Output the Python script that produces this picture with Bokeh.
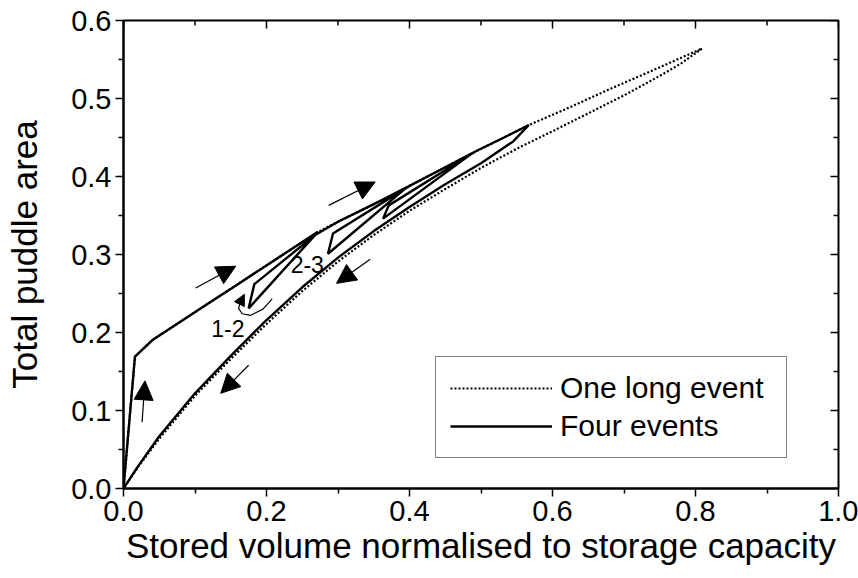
import math
from bokeh.plotting import figure
from bokeh.models import (LinearAxis, FixedTicker, Range1d, Arrow, NormalHead,
                          Legend, LegendItem, Label, NumeralTickFormatter)
from bokeh.embed import file_html
from bokeh.resources import INLINE

FONT = "Liberation Sans"

# ---- One long event (dotted): filling branch, then draining branch ----
long_fill_x = [0.0, 0.016, 0.040, 0.08, 0.12, 0.16, 0.20, 0.24, 0.27, 0.30, 0.331,
               0.36, 0.396, 0.44, 0.488, 0.53, 0.567, 0.62, 0.68, 0.74, 0.809]
long_fill_y = [0.0, 0.169, 0.190, 0.214, 0.238, 0.262, 0.286, 0.310, 0.328, 0.342, 0.356,
               0.369, 0.386, 0.407, 0.430, 0.449, 0.466, 0.487, 0.512, 0.536, 0.564]
long_drain_x = [0.809, 0.78, 0.75, 0.70, 0.65, 0.60, 0.555, 0.50, 0.45,
                0.40, 0.35, 0.30, 0.25, 0.20, 0.15, 0.10, 0.05, 0.02, 0.0]
long_drain_y = [0.564, 0.545, 0.529, 0.504, 0.481, 0.458, 0.438, 0.411, 0.384,
                0.356, 0.325, 0.291, 0.253, 0.211, 0.166, 0.119, 0.064, 0.027, 0.0]

# ---- Four events (solid): fill, partial drains / refills, final drain ----
four_x = [0.0, 0.016, 0.040, 0.08, 0.12, 0.16, 0.20, 0.24, 0.272,
          0.175, 0.183, 0.268, 0.30, 0.331, 0.36, 0.396,
          0.286, 0.293, 0.40, 0.44, 0.488,
          0.363, 0.371, 0.492, 0.53, 0.567,
          0.545, 0.50, 0.45, 0.40, 0.35, 0.30, 0.25, 0.20, 0.15, 0.10, 0.05, 0.02, 0.0]
four_y = [0.0, 0.169, 0.190, 0.214, 0.238, 0.262, 0.286, 0.310, 0.329,
          0.231, 0.262, 0.325, 0.342, 0.356, 0.369, 0.386,
          0.301, 0.327, 0.388, 0.407, 0.430,
          0.346, 0.363, 0.432, 0.449, 0.466,
          0.445, 0.417, 0.390, 0.361, 0.330, 0.296, 0.258, 0.216, 0.170, 0.122, 0.067, 0.028, 0.0]

# ---- direction arrows (start -> end, data units) ----
arrow_x0 = [0.026, 0.101, 0.287, 0.175, 0.345]
arrow_y0 = [0.085, 0.257, 0.363, 0.158, 0.294]
arrow_x1 = [0.030, 0.157, 0.352, 0.136, 0.298]
arrow_y1 = [0.138, 0.285, 0.393, 0.122, 0.263]

# curved arrow near the 1-2 loop
curl_x = [0.208, 0.195, 0.178, 0.166, 0.161, 0.163]
curl_y = [0.243, 0.230, 0.222, 0.224, 0.231, 0.238]
curl_tip = (0.169, 0.249)

loop_labels = ["1-2", "2-3"]
loop_label_x = [0.146, 0.257]
loop_label_y = [0.205, 0.287]

x_major = [0.0, 0.2, 0.4, 0.6, 0.8, 1.0]
x_minor = [0.1, 0.3, 0.5, 0.7, 0.9]
y_major = [0.0, 0.1, 0.2, 0.3, 0.4, 0.5, 0.6]
y_minor = [0.05, 0.15, 0.25, 0.35, 0.45, 0.55]
X_MAX, Y_MAX = 1.0, 0.6

p = figure(width=858, height=578, output_backend="svg", toolbar_location=None,
           x_range=Range1d(0, X_MAX), y_range=Range1d(0, Y_MAX),
           min_border_left=123, min_border_right=20, min_border_top=20,
           min_border_bottom=90, x_axis_location=None, y_axis_location=None)
p.grid.visible = False
p.outline_line_color = "black"
p.outline_line_width = 2
p.background_fill_color = "white"
p.border_fill_color = "white"

xt = FixedTicker(ticks=x_major, minor_ticks=x_minor)
yt = FixedTicker(ticks=y_major, minor_ticks=y_minor)


def style(ax):
    ax.axis_line_width = 2
    ax.axis_line_color = "black"
    ax.major_tick_line_width = 1.5
    ax.minor_tick_line_width = 1.5
    ax.major_tick_line_color = "black"
    ax.minor_tick_line_color = "black"
    ax.major_tick_out, ax.major_tick_in = 8, 0
    ax.minor_tick_out, ax.minor_tick_in = 5, 0
    ax.major_label_text_font = FONT
    ax.major_label_text_font_size = "29px"
    ax.major_label_text_color = "black"
    ax.axis_label_text_font = FONT
    ax.axis_label_text_font_size = "35px"
    ax.axis_label_text_font_style = "normal"
    ax.axis_label_text_color = "black"
    ax.formatter = NumeralTickFormatter(format="0.0")


xb = LinearAxis(ticker=xt, axis_label="Stored volume normalised to storage capacity")
style(xb)
xb.major_label_standoff = 4
xb.axis_label_standoff = 2
p.add_layout(xb, "below")

yl = LinearAxis(ticker=yt, axis_label="Total puddle area")
style(yl)
yl.major_label_standoff = 4
yl.axis_label_standoff = 24
p.add_layout(yl, "left")

# inward ticks on the top and right frame edges
p.ray(x=x_major, y=[Y_MAX] * len(x_major), length=8, length_units="screen",
      angle=-90, angle_units="deg", line_color="black", line_width=1.5)
p.ray(x=x_minor, y=[Y_MAX] * len(x_minor), length=5, length_units="screen",
      angle=-90, angle_units="deg", line_color="black", line_width=1.5)
p.ray(x=[X_MAX] * len(y_major), y=y_major, length=8, length_units="screen",
      angle=180, angle_units="deg", line_color="black", line_width=1.5)
p.ray(x=[X_MAX] * len(y_minor), y=y_minor, length=5, length_units="screen",
      angle=180, angle_units="deg", line_color="black", line_width=1.5)

r_long_fill = p.line(long_fill_x, long_fill_y, line_color="black", line_width=2.2,
                     line_dash="2 2")
r_long_drain = p.line(long_drain_x, long_drain_y, line_color="black", line_width=2.2,
                      line_dash="2 2")
r_four = p.line(four_x, four_y, line_color="black", line_width=2.4)

for x0, y0, x1, y1 in zip(arrow_x0, arrow_y0, arrow_x1, arrow_y1):
    p.add_layout(Arrow(end=NormalHead(size=19, fill_color="black", line_color="black"),
                       x_start=x0, y_start=y0, x_end=x1, y_end=y1,
                       line_width=1.2, line_color="black"))

p.line(curl_x, curl_y, line_color="black", line_width=1.2)
p.add_layout(Arrow(end=NormalHead(size=11, fill_color="black", line_color="black"),
                   x_start=curl_x[-1], y_start=curl_y[-1], x_end=curl_tip[0], y_end=curl_tip[1],
                   line_width=1.2, line_color="black"))

for t, lx, ly in zip(loop_labels, loop_label_x, loop_label_y):
    p.add_layout(Label(x=lx, y=ly, text=t, text_font=FONT, text_font_size="23px",
                       text_align="center", text_baseline="middle", text_color="black"))

legend = Legend(items=[LegendItem(label="One long event", renderers=[r_long_fill]),
                       LegendItem(label="Four events", renderers=[r_four])],
                location=(312, 30), orientation="vertical",
                glyph_width=102, glyph_height=30, label_height=30, label_width=212,
                label_standoff=8, padding=14, spacing=4,
                label_text_font=FONT, label_text_font_size="30px", label_text_color="black",
                border_line_color="black", border_line_width=1.2,
                background_fill_color="white", background_fill_alpha=1.0)
p.add_layout(legend)

open("out.html", "w").write(file_html(p, INLINE))
